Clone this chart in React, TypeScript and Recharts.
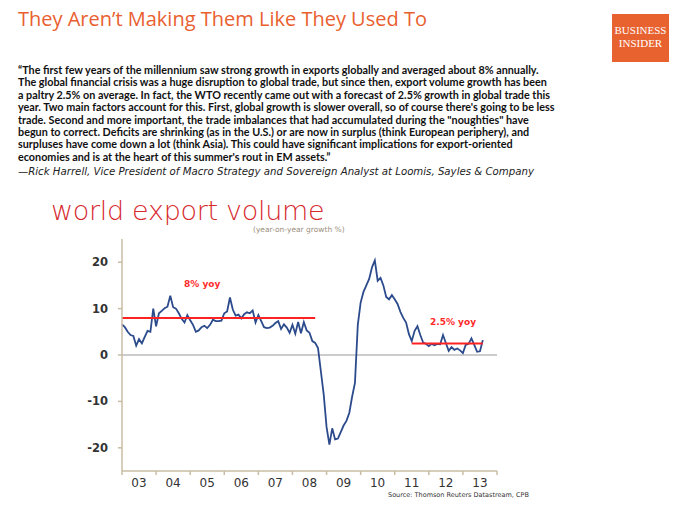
import React from "react";
import { Line, LineChart, ReferenceLine, XAxis, YAxis } from "recharts";

// monthly yoy growth, Jan 2003 .. Aug 2013
const exportGrowth = [
  6.6, 6.0, 5.0, 4.3, 4.1, 2.0, 3.4, 2.5, 3.9, 5.2, 5.0, 10.0,
  6.2, 9.0, 9.5, 10.1, 10.4, 12.8, 10.3, 10.0, 9.0, 7.8, 7.0, 8.6,
  7.5, 6.5, 5.0, 5.3, 6.0, 6.3, 5.8, 6.5, 7.6, 7.3, 7.3, 7.4,
  9.0, 9.4, 12.4, 9.8, 8.5, 8.7, 7.9, 8.8, 9.2, 9.0, 9.6, 7.0,
  8.6, 7.3, 6.0, 5.8, 5.9, 6.3, 6.9, 7.3, 5.6, 6.6, 5.9, 4.8,
  6.5, 4.6, 7.1, 4.7, 7.1, 5.3, 4.8, 3.0, 2.6, 1.5, -3.5, -8.5,
  -15.5, -19.3, -15.8, -18.2, -18.0, -16.6, -15.2, -14.2, -12.5, -9.0, -6.0, 6.5,
  11.3, 13.6, 15.0, 16.4, 18.9, 20.4, 16.0, 16.6, 15.0, 12.5, 12.0, 12.9,
  12.0, 11.0, 9.3, 8.0, 7.0, 4.5, 3.0, 5.2, 6.2, 4.3, 2.7, 2.4,
  1.9, 2.4, 2.1, 2.4, 2.3, 4.3, 2.6, 0.9, 1.7, 1.1, 1.4, 1.0,
  0.4, 2.2, 2.4, 3.6, 2.2, 0.7, 0.8, 3.2,
];

// average growth periods: [first month, last month, value]
const avgBefore = [0, 68, 8];
const avgAfter = [102, 127, 2.5];

const yearLabels = ["03", "04", "05", "06", "07", "08", "09", "10", "11", "12", "13"];
const yTicks = [-20, -10, 0, 10, 20];

const quoteLines = [
  "\u201cThe first few years of the millennium saw strong growth in exports globally and averaged about 8% annually.",
  "The global financial crisis was a huge disruption to global trade, but since then, export volume growth has been",
  "a paltry 2.5% on average. In fact, the WTO recently came out with a forecast of 2.5% growth in global trade this",
  "year. Two main factors account for this. First, global growth is slower overall, so of course there's going to be less",
  "trade. Second and more important, the trade imbalances that had accumulated during the \"noughties\" have",
  "begun to correct. Deficits are shrinking (as in the U.S.) or are now in surplus (think European periphery), and",
  "surpluses have come down a lot (think Asia). This could have significant implications for export-oriented",
  "economies and is at the heart of this summer's rout in EM assets.\u201d",
];

const data = exportGrowth.map((v, i) => ({
  m: i,
  v,
  a1: i >= avgBefore[0] && i <= avgBefore[1] ? avgBefore[2] : null,
  a2: i >= avgAfter[0] && i <= avgAfter[1] ? avgAfter[2] : null,
}));

const monthTicks = Array.from({ length: yearLabels.length + 1 }, (_, i) => i * 12);

const AXIS = "#c9bca4";

function YearTick(props: any) {
  const { x, y, payload } = props;
  const idx = payload.value / 12;
  if (idx >= yearLabels.length) return null;
  return (
    <text x={x + 17} y={y + 10} textAnchor="middle" fontSize={12} fill="#333" fontFamily="DejaVu Sans">
      {yearLabels[idx]}
    </text>
  );
}

function ValueTick(props: any) {
  const { x, y, payload } = props;
  return (
    <text x={x} y={y + 4} textAnchor="end" fontSize={11.5} fontWeight="bold" fill="#333" fontFamily="DejaVu Sans">
      {payload.value}
    </text>
  );
}

export default function App() {
  return (
    <div style={{ position: "absolute", left: 0, top: 0, width: 700, height: 525, background: "#fff", overflow: "hidden" }}>
      <div style={{ position: "absolute", left: 18, top: 5, fontFamily: "Open Sans", fontSize: 20, color: "#e9602f", whiteSpace: "nowrap" }}>
        They Aren’t Making Them Like They Used To
      </div>
      <div style={{ position: "absolute", left: 612, top: 14, width: 57, height: 48, background: "#e8622f", color: "#fff", fontFamily: "Liberation Serif", fontSize: 11, lineHeight: "13px", textAlign: "center", paddingTop: 10, boxSizing: "border-box" }}>
        BUSINESS<br />INSIDER
      </div>

      <div style={{ position: "absolute", left: 18, top: 64, fontFamily: "Lato", fontWeight: "bold", fontSize: 10.8, lineHeight: "12.4px", color: "#111", whiteSpace: "nowrap" }}>
        {quoteLines.map((l, i) => (
          <div key={i}>{l}</div>
        ))}
      </div>
      <div style={{ position: "absolute", left: 18, top: 166, fontFamily: "DejaVu Sans", fontStyle: "italic", fontSize: 10.2, color: "#222", whiteSpace: "nowrap" }}>
        —Rick Harrell, Vice President of Macro Strategy and Sovereign Analyst at Loomis, Sayles &amp; Company
      </div>

      <div style={{ position: "absolute", left: 51, top: 195, fontFamily: "DejaVu Sans", fontWeight: 300, fontSize: 27, color: "#d6282d", whiteSpace: "nowrap", letterSpacing: -0.3 }}>
        world export volume
      </div>
      <div style={{ position: "absolute", left: 253, top: 225, fontFamily: "DejaVu Sans", fontSize: 7.5, color: "#9c9080", whiteSpace: "nowrap" }}>
        (year-on-year growth %)
      </div>

      <div style={{ position: "absolute", left: 0, top: 200 }}>
        <LineChart width={560} height={310} data={data} margin={{ top: 39, right: 63, left: 0, bottom: 9 }}>
          <XAxis
            dataKey="m"
            type="number"
            domain={[0, 132]}
            ticks={monthTicks}
            interval={0}
            height={30}
            tickSize={4}
            axisLine={{ stroke: AXIS, strokeWidth: 1.5 }}
            tickLine={{ stroke: AXIS, strokeWidth: 1.5 }}
            tick={<YearTick />}
          />
          <YAxis
            type="number"
            domain={[-25, 25]}
            ticks={yTicks}
            interval={0}
            width={122}
            tickSize={4}
            tickMargin={10}
            axisLine={{ stroke: AXIS, strokeWidth: 1.5 }}
            tickLine={{ stroke: AXIS, strokeWidth: 1.5 }}
            tick={<ValueTick />}
          />
          <ReferenceLine y={0} stroke="#999" strokeWidth={1.2} />
          <Line dataKey="v" stroke="#2c4b8c" strokeWidth={1.8} dot={false} isAnimationActive={false} />
          <Line dataKey="a1" stroke="#ff2222" strokeWidth={2} dot={false} isAnimationActive={false} />
          <Line dataKey="a2" stroke="#ff2222" strokeWidth={2} dot={false} isAnimationActive={false} />
        </LineChart>
      </div>

      <div style={{ position: "absolute", left: 184, top: 279, fontFamily: "DejaVu Sans", fontWeight: "bold", fontSize: 9, color: "#ff2a2a" }}>8% yoy</div>
      <div style={{ position: "absolute", left: 430, top: 317, fontFamily: "DejaVu Sans", fontWeight: "bold", fontSize: 9, color: "#ff2a2a", whiteSpace: "nowrap" }}>2.5% yoy</div>
      <div style={{ position: "absolute", left: 388, top: 491, fontFamily: "DejaVu Sans", fontSize: 6.5, color: "#333", whiteSpace: "nowrap" }}>
        Source: Thomson Reuters Datastream, CPB
      </div>
    </div>
  );
}
